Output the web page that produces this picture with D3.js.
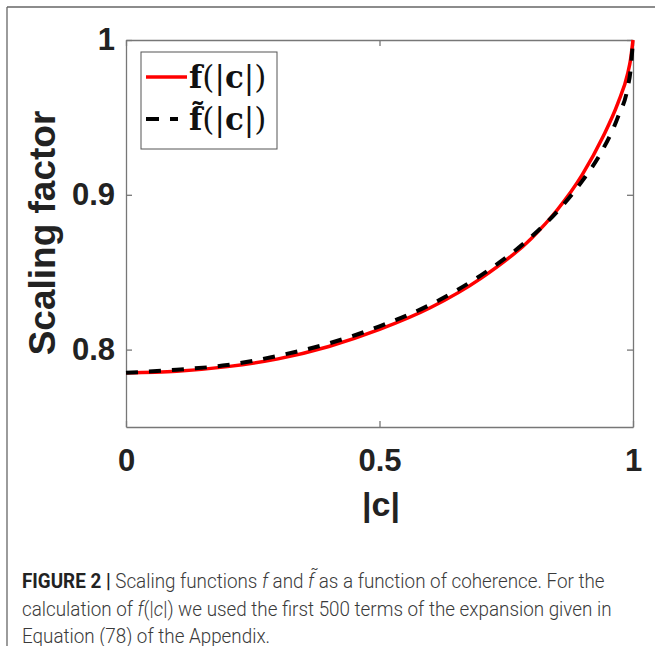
<!DOCTYPE html>
<html>
<head>
<meta charset="utf-8">
<script src="https://cdn.jsdelivr.net/npm/d3@7"></script>
<style>
  body { margin: 0; background: #fff; }
  svg { display: block; }
</style>
</head>
<body>
<svg width="655" height="646"></svg>
<script>
// values
var cValues      = [0, 0.1, 0.2, 0.3, 0.4, 0.5, 0.6, 0.7, 0.8, 0.85, 0.9, 0.94, 0.97, 0.99, 0.995, 1];
var fValues      = [0.785, 0.786, 0.789, 0.794, 0.802, 0.813, 0.827, 0.846, 0.872, 0.890, 0.913, 0.937, 0.959, 0.979, 0.987, 1.0];
var fTildeValues = [0.785, 0.787, 0.790, 0.796, 0.804, 0.815, 0.829, 0.848, 0.873, 0.889, 0.909, 0.929, 0.950, 0.970, 0.980, 1.0];
var xTicks = [0, 0.5, 1];
var yTicks = [0.8, 0.9, 1];
var xTickLabels = ['0', '0.5', '1'];
var yTickLabels = ['0.8', '0.9', '1'];

var svg = d3.select('svg');
var axisColor = '#777';
var tickFont = '"Liberation Sans", Arial, sans-serif';

// outer frame of the figure panel
svg.append('line').attr('x1', 7).attr('y1', 7).attr('x2', 655).attr('y2', 7)
    .attr('stroke', '#666').attr('stroke-width', 1.3);
svg.append('line').attr('x1', 7).attr('y1', 7).attr('x2', 7).attr('y2', 646)
    .attr('stroke', '#666').attr('stroke-width', 1.3);

var plotLeft = 126, plotRight = 633, plotTop = 40, plotBottom = 427;
var x = d3.scaleLinear().domain([0, 1]).range([plotLeft, plotRight]);
var y = d3.scaleLinear().domain([0.75, 1]).range([plotBottom, plotTop]);

function styleAxis(g) {
    g.selectAll('path').attr('stroke', axisColor).attr('stroke-width', 1.3);
    g.selectAll('line').attr('stroke', axisColor).attr('stroke-width', 1.3);
    g.selectAll('text').attr('fill', '#222').attr('font-family', tickFont)
        .attr('font-weight', 'bold').attr('font-size', 31);
}

svg.append('g').attr('transform', 'translate(0,' + plotBottom + ')')
    .call(d3.axisBottom(x).tickValues(xTicks).tickFormat((d, i) => xTickLabels[i])
        .tickSizeInner(-6).tickSizeOuter(0).tickPadding(22))
    .call(styleAxis);
svg.append('g').attr('transform', 'translate(0,' + plotTop + ')')
    .call(d3.axisTop(x).tickValues(xTicks).tickFormat('')
        .tickSizeInner(-6).tickSizeOuter(0))
    .call(styleAxis);
svg.append('g').attr('transform', 'translate(' + plotLeft + ',0)')
    .call(d3.axisLeft(y).tickValues(yTicks).tickFormat((d, i) => yTickLabels[i])
        .tickSizeInner(-6).tickSizeOuter(0).tickPadding(11))
    .call(styleAxis);
svg.append('g').attr('transform', 'translate(' + plotRight + ',0)')
    .call(d3.axisRight(y).tickValues(yTicks).tickFormat('')
        .tickSizeInner(-6).tickSizeOuter(0))
    .call(styleAxis);

// curves (dashed one drawn on top, as in the original)
var line = d3.line().curve(d3.curveMonotoneX);
svg.append('path')
    .attr('d', line(cValues.map((c, i) => [x(c), y(fValues[i])])))
    .attr('fill', 'none').attr('stroke', '#f00').attr('stroke-width', 3.5);
svg.append('path')
    .attr('d', line(cValues.map((c, i) => [x(c), y(fTildeValues[i])])))
    .attr('fill', 'none').attr('stroke', '#000').attr('stroke-width', 4)
    .attr('stroke-dasharray', '12,11');

// axis titles
svg.append('text').attr('x', 381).attr('y', 516).attr('text-anchor', 'middle')
    .attr('font-family', tickFont).attr('font-weight', 'bold').attr('font-size', 34)
    .attr('fill', '#222').text('|c|');
svg.append('text').attr('transform', 'translate(55,233) rotate(-90)')
    .attr('text-anchor', 'middle')
    .attr('font-family', tickFont).attr('font-weight', 'bold').attr('font-size', 37)
    .attr('fill', '#222').text('Scaling factor');

// legend
var legend = svg.append('g');
legend.append('rect').attr('x', 141).attr('y', 52).attr('width', 136).attr('height', 97)
    .attr('fill', '#fff').attr('stroke', '#555').attr('stroke-width', 1);
legend.append('line').attr('x1', 146).attr('x2', 187).attr('y1', 77).attr('y2', 77)
    .attr('stroke', '#f00').attr('stroke-width', 3.5);
legend.append('line').attr('x1', 146).attr('x2', 178).attr('y1', 119).attr('y2', 119)
    .attr('stroke', '#000').attr('stroke-width', 4).attr('stroke-dasharray', '13,11');

var serif = '"DejaVu Serif", "Liberation Serif", serif';
function legendLabel(yPos, fChar) {
    var t = legend.append('text').attr('x', 189).attr('y', yPos)
        .attr('font-family', serif).attr('font-size', 31).attr('fill', '#111');
    t.append('tspan').attr('font-weight', 'bold').text(fChar);
    t.append('tspan').text('(|');
    t.append('tspan').attr('font-weight', 'bold').text('c');
    t.append('tspan').text('|)');
}
legendLabel(88, 'f');
legendLabel(130, 'f\u0303');

// caption -- condensed look: every line squeezed by the same factor
var capFont = 'Roboto, "Liberation Sans", sans-serif';
var cap = svg.append('g').attr('font-family', capFont).attr('font-size', 20.5)
    .attr('fill', '#3a3a3a').attr('font-weight', 300);

var l1 = cap.append('text').attr('y', 588);
l1.append('tspan').attr('font-weight', 'bold').attr('fill', '#222').text('FIGURE 2 |');
l1.append('tspan').text(' Scaling functions ');
l1.append('tspan').attr('font-style', 'italic').text('f');
l1.append('tspan').text(' and ');
l1.append('tspan').attr('font-style', 'italic').text('f\u0303');
l1.append('tspan').text(' as a function of coherence. For the');

var l2 = cap.append('text').attr('y', 616);
l2.append('tspan').text('calculation of ');
l2.append('tspan').attr('font-style', 'italic').text('f');
l2.append('tspan').text('(|');
l2.append('tspan').attr('font-style', 'italic').text('c');
l2.append('tspan').text('|) we used the first 500 terms of the expansion given in');

cap.append('text').attr('y', 643).text('Equation (78) of the Appendix.');

var squeeze = 583 / l1.node().getComputedTextLength();
cap.attr('transform', 'translate(22,0) scale(' + squeeze + ',1)');
</script>
</body>
</html>
